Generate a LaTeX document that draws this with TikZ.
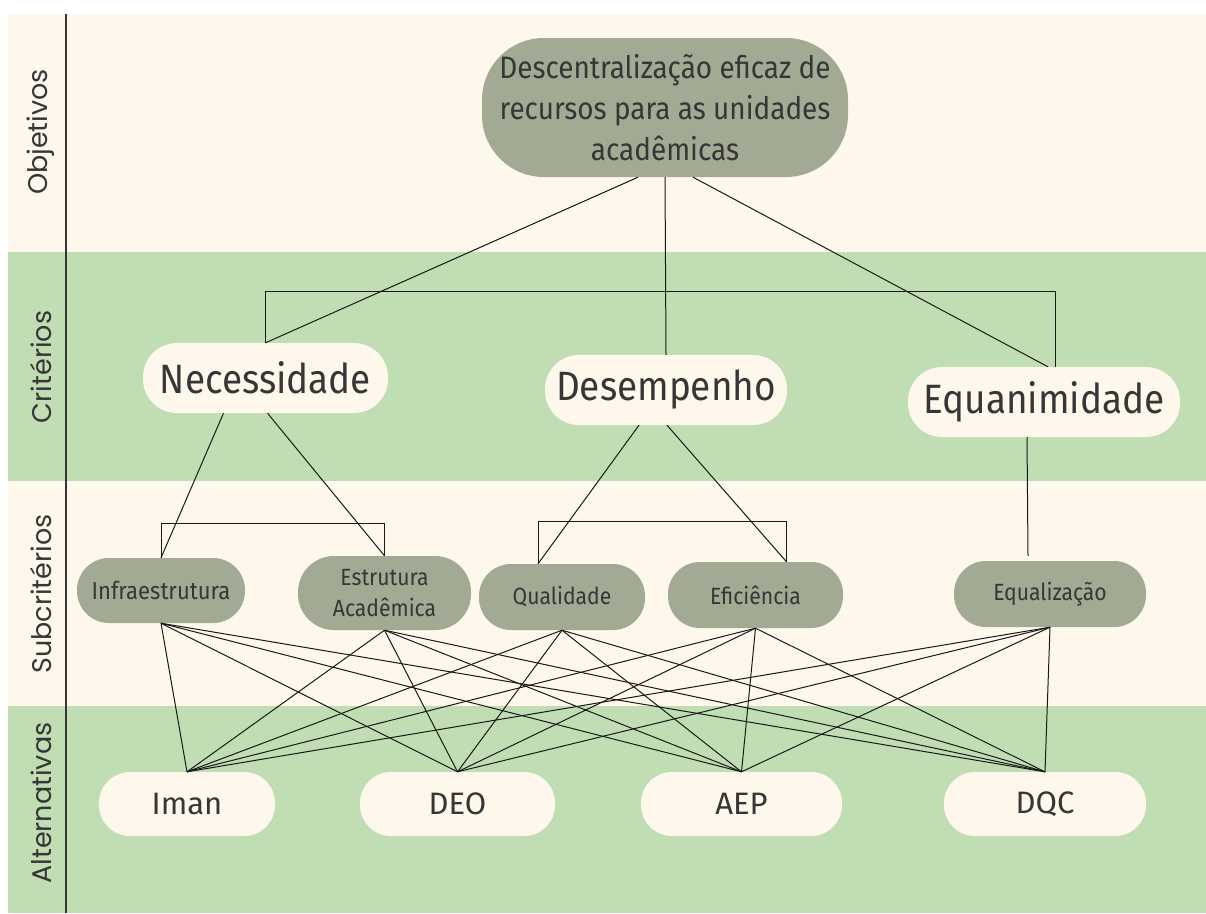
\documentclass[tikz,border=0pt]{standalone}
\usepackage{fontspec}
\setmainfont{Fira Sans}
\newfontfamily\condfont[FakeStretch=0.9]{Fira Sans}
\newfontfamily\labfont{Poppins}
\usetikzlibrary{calc}
\definecolor{cream}{HTML}{FDF8EB}
\definecolor{band}{HTML}{C1DDB4}
\definecolor{sage}{HTML}{A3AA94}
\definecolor{ink}{HTML}{363636}
\begin{document}
\begin{tikzpicture}[x=1pt,y=-1pt,
  lab/.style={rotate=90,inner sep=0pt,text=ink,font=\labfont\fontsize{27}{32}\selectfont},
  ovalg/.style={fill=sage,draw=none,inner sep=0pt,align=center,text=ink},
  ovalc/.style={fill=cream,draw=none,inner sep=0pt,align=center,text=ink},
  conn/.style={draw=black!90,line width=1pt},
  topf/.style={font=\condfont\fontsize{31}{41}\selectfont},
  critf/.style={font=\condfont\fontsize{41}{48}\selectfont},
  subf/.style={font=\condfont\fontsize{23.5}{31}\selectfont},
  altf/.style={font=\fontsize{31}{36}\selectfont}]
\useasboundingbox (0,0) rectangle (1206,913);
\fill[white] (0,0) rectangle (1206,913);
\fill[cream] (8,14) rectangle (1206,252);
\fill[band] (8,252) rectangle (1206,481);
\fill[cream] (8,481) rectangle (1206,706);
\fill[band] (8,706) rectangle (1206,913);
\draw[ink,line width=1.3pt] (66,14) -- (66,913);

% row labels
\node[lab] (lobj) at (41,132) {Objetivos};
\node[lab] (lcri) at (41,367) {Critérios};
\node[lab] (lsub) at (41,594) {Subcritérios};
\node[lab] (lalt) at (41,803) {Alternativas};

% goal
\node[ovalg,topf,minimum width=366pt,minimum height=139pt,rounded corners=62pt] (goal) at (665,107.5)
  {Descentralização eficaz de\\recursos para as unidades\\acadêmicas};

% criteria
\node[ovalc,critf,minimum width=245pt,minimum height=70pt,rounded corners=34pt] (nec) at (265.5,378) {Necessidade};
\node[ovalc,critf,minimum width=242pt,minimum height=70pt,rounded corners=34pt] (des) at (666,390) {Desempenho};
\node[ovalc,critf,minimum width=272pt,minimum height=70pt,rounded corners=34pt] (equ) at (1044,402) {Equanimidade};

% subcriteria
\node[ovalg,subf,minimum width=168pt,minimum height=65pt,rounded corners=32pt] (infra) at (161,590.5) {\fontsize{24.5}{28}\selectfont Infraestrutura};
\node[ovalg,subf,minimum width=173pt,minimum height=74pt,rounded corners=36pt] (estr) at (384.5,593) {Estrutura\\Acadêmica};
\node[ovalg,subf,minimum width=166pt,minimum height=66pt,rounded corners=32pt] (qual) at (562,597) {Qualidade};
\node[ovalg,subf,minimum width=175pt,minimum height=66pt,rounded corners=32pt] (efic) at (755.5,595) {Eficiência};
\node[ovalg,subf,minimum width=192pt,minimum height=66pt,rounded corners=32pt] (equal) at (1050,594) {Equalização};

% alternatives
\node[ovalc,altf,minimum width=176pt,minimum height=64pt,rounded corners=31pt] (iman) at (187,804) {Iman};
\node[ovalc,altf,minimum width=195pt,minimum height=64pt,rounded corners=31pt] (deo) at (457.5,804) {DEO};
\node[ovalc,altf,minimum width=201pt,minimum height=64pt,rounded corners=31pt] (aep) at (741.5,804) {AEP};
\node[ovalc,altf,minimum width=202pt,minimum height=64pt,rounded corners=31pt] (dqc) at (1045,804) {DQC};

% goal -> criteria
\draw[conn] ([xshift=-27pt]goal.south) -- (nec.north);
\draw[conn] (goal.south) -- (des.north);
\draw[conn] ([xshift=28pt]goal.south) -- ([xshift=4pt]equ.north);
\draw[conn] (nec.north) -- ++(0,-51) -| ([xshift=11pt]equ.north);

% criteria -> subcriteria
\draw[conn] ([xshift=-42pt]nec.south) -- (infra.north);
\draw[conn] ([xshift=2pt]nec.south) -- (estr.north);
\draw[conn] (infra.north) -- ++(0,-34) -| (estr.north);
\draw[conn] ([xshift=-27pt]des.south) -- ([xshift=-24pt]qual.north);
\draw[conn] ([xshift=1pt]des.south) -- ([xshift=31pt]efic.north);
\draw[conn] ([xshift=-24pt]qual.north) -- ++(0,-42) -| ([xshift=31pt]efic.north);
\draw[conn] ([xshift=-17pt]equ.south) -- ([xshift=-22pt,yshift=5pt]equal.north);

% subcriteria -> alternatives
\foreach \s in {infra,estr,qual,efic,equal}
  \foreach \a in {iman,deo,aep,dqc}
    \draw[conn] (\s.south) -- (\a.north);
\end{tikzpicture}
\end{document}
